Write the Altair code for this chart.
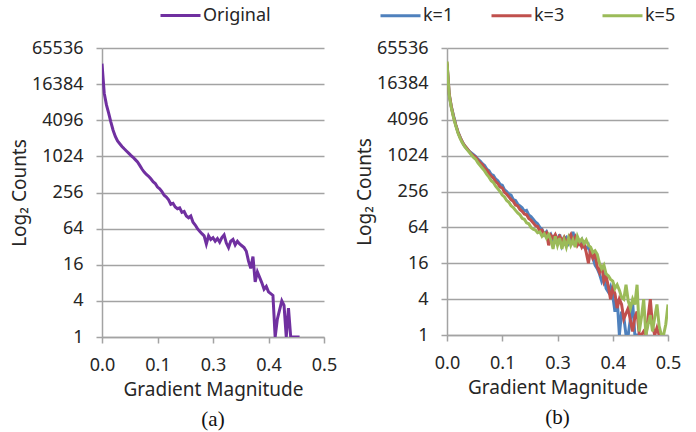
import altair as alt
import pandas as pd

# ---- data -------------------------------------------------------------
GRADIENT = [0.000, 0.005, 0.010, 0.015, 0.020, 0.025, 0.030, 0.035, 0.040, 0.045,
            0.050, 0.055, 0.060, 0.065, 0.070, 0.075, 0.080, 0.085, 0.090, 0.095,
            0.100, 0.105, 0.110, 0.115, 0.120, 0.125, 0.130, 0.135, 0.140, 0.145,
            0.150, 0.155, 0.160, 0.165, 0.170, 0.175, 0.180, 0.185, 0.190, 0.195,
            0.200, 0.205, 0.210, 0.215, 0.220, 0.225, 0.230, 0.235, 0.240, 0.245,
            0.250, 0.255, 0.260, 0.265, 0.270, 0.275, 0.280, 0.285, 0.290, 0.295,
            0.300, 0.305, 0.310, 0.315, 0.320, 0.325, 0.330, 0.335, 0.340, 0.345,
            0.350, 0.355, 0.360, 0.365, 0.370, 0.375, 0.380, 0.385, 0.390, 0.395,
            0.400, 0.405, 0.410, 0.415, 0.420, 0.425, 0.430, 0.435, 0.440, 0.445,
            0.450, 0.455, 0.460, 0.465, 0.470, 0.475, 0.480, 0.485, 0.490, 0.495,
            0.500]

# log2 of the counts
ORIGINAL_LOG2 = [15.13, 13.5, 12.85, 12.4, 11.9, 11.45, 11.1, 10.85, 10.7, 10.55,
                 10.42, 10.3, 10.18, 10.06, 9.95, 9.82, 9.69, 9.5, 9.3, 9.13,
                 9.0, 8.9, 8.76, 8.6, 8.5, 8.3, 8.2, 8.05, 7.85, 7.75,
                 7.6, 7.35, 7.4, 7.2, 7.1, 7.15, 6.9, 6.95, 6.7, 6.6,
                 6.7, 6.35, 6.2, 6.0, 5.85, 5.72, 5.6, 5.15, 5.6, 5.4,
                 5.5, 5.3, 5.45, 5.25, 5.5, 5.65, 5.2, 4.95, 5.3, 5.4,
                 5.1, 5.3, 5.15, 5.05, 4.95, 4.75, 4.2, 3.8, 4.45, 3.05,
                 3.6, 3.3, 3.0, 2.65, 2.8, 2.5, 2.4, 2.3, 0.0, 1.0,
                 1.5, 2.0, 1.75, 0.0, 1.6, 0.0, 0.0, 0.0, 0.0, 0.0]

K1_LOG2 = [15.1, 13.4, 12.7, 12.2, 11.7, 11.3, 11.0, 10.75, 10.55, 10.4,
           10.25, 10.15, 10.05, 9.95, 9.8, 9.7, 9.55, 9.45, 9.25, 9.15,
           8.95, 8.9, 8.7, 8.6, 8.4, 8.35, 8.1, 8.0, 7.85, 7.8,
           7.55, 7.5, 7.3, 7.2, 7.1, 6.9, 6.95, 6.7, 6.6, 6.45,
           6.3, 6.2, 6.0, 5.9, 5.6, 5.75, 5.4, 5.6, 5.3, 5.5,
           5.2, 5.6, 5.0, 5.35, 5.45, 5.1, 5.3, 5.75, 5.2, 5.4,
           5.1, 5.3, 4.9, 4.8, 5.0, 4.5, 4.3, 3.9, 3.7, 3.4,
           3.0, 3.3, 2.6, 2.4, 2.7, 2.2, 1.3, 2.0, 0.0, 1.3,
           1.0, 0.0, 0.0, 0.9, 1.8, 0.0, 0.0, 0.0, 0.0]

K3_LOG2 = [15.2, 13.45, 12.7, 12.15, 11.7, 11.3, 11.0, 10.75, 10.55, 10.4,
           10.25, 10.1, 10.0, 9.9, 9.75, 9.6, 9.5, 9.3, 9.2, 9.0,
           8.85, 8.75, 8.55, 8.45, 8.25, 8.2, 7.95, 7.85, 7.7, 7.55,
           7.45, 7.25, 7.2, 7.0, 6.9, 6.75, 6.7, 6.5, 6.4, 6.25,
           6.1, 6.05, 5.8, 5.85, 5.6, 5.7, 5.0, 5.55, 5.4, 5.6,
           5.3, 5.5, 5.25, 5.45, 5.15, 5.4, 5.6, 5.2, 5.45, 5.0,
           5.2, 4.9, 5.1, 4.6, 4.0, 4.8, 4.3, 4.5, 3.8, 3.5,
           3.9, 3.0, 3.3, 2.7, 2.0, 2.6, 2.3, 1.5, 2.0, 1.7,
           0.9, 1.2, 1.5, 0.8, 0.2, 1.0, 1.3, 0.0, 0.0, 0.2,
           0.0, 1.0, 2.0, 0.5, 0.0, 0.4, 0.0, 0.0]

K5_LOG2 = [15.25, 13.35, 12.65, 12.1, 11.65, 11.25, 10.95, 10.7, 10.5, 10.35,
           10.2, 10.05, 9.9, 9.8, 9.6, 9.45, 9.3, 9.15, 8.95, 8.8,
           8.6, 8.5, 8.3, 8.15, 8.0, 7.8, 7.7, 7.5, 7.4, 7.2,
           7.1, 6.95, 6.8, 6.7, 6.5, 6.45, 6.25, 6.2, 6.0, 5.9,
           5.85, 5.7, 5.75, 5.5, 5.65, 5.4, 5.6, 5.3, 4.8, 5.5,
           5.0, 5.4, 4.8, 5.3, 4.9, 5.4, 5.0, 5.3, 4.9, 5.5,
           5.2, 5.35, 5.1, 5.3, 5.0, 4.9, 4.6, 4.7, 4.5, 4.0,
           3.7, 3.9, 3.4, 3.3, 3.1, 3.0, 2.6, 2.8, 2.5, 2.1,
           2.0, 2.8, 1.9, 1.5, 2.0, 1.7, 2.8, 0.2, 1.0, 2.0,
           0.0, 0.6, 1.1, 0.2, 1.0, 1.7, 0.5, 0.0, 0.0, 0.6,
           1.7]

Y_TICKS = [1, 4, 16, 64, 256, 1024, 4096, 16384, 65536]
X_TICKS = [0.0, 0.125, 0.25, 0.375, 0.5]

LEFT_SERIES = ["Original"]
LEFT_COLORS = ["#7030A0"]
RIGHT_SERIES = ["k=1", "k=3", "k=5"]
RIGHT_COLORS = ["#4F81BD", "#C0504D", "#9BBB59"]


def frame(name, vals):
    return pd.DataFrame({"g": GRADIENT[:len(vals)], "l2": vals, "series": name})


left_df = frame("Original", ORIGINAL_LOG2)
right_df = pd.concat([frame("k=1", K1_LOG2), frame("k=3", K3_LOG2),
                      frame("k=5", K5_LOG2)], ignore_index=True)

FONT = "Noto Sans"
TXT = "#262626"
GRID = "#a3a3a3"


def panel(df, series, colors, tag, w, h, legend_x, legend_y, col_pad):
    x = alt.X("g:Q", scale=alt.Scale(domain=[0, 0.5], nice=False),
              axis=alt.Axis(values=X_TICKS, format=".1f", title="Gradient Magnitude",
                            grid=False, labelFlush=False, labelOverlap=False,
                            tickSize=6, labelPadding=13, titlePadding=6))
    y = alt.Y("cnt:Q", scale=alt.Scale(type="log", base=2, domain=[1, 65536], nice=False),
              axis=alt.Axis(values=Y_TICKS, format="d", title="Log₂ Counts",
                            grid=True, labelOverlap=False, tickSize=6,
                            labelPadding=13, titlePadding=2))
    color = alt.Color("series:N", title=None,
                      scale=alt.Scale(domain=series, range=colors),
                      legend=alt.Legend(orient="none", legendX=legend_x, legendY=legend_y,
                                        direction="horizontal", symbolType="M-2,0H2",
                                        symbolSize=400, symbolStrokeWidth=3,
                                        labelFontSize=18, labelFont=FONT, labelColor=TXT,
                                        labelOffset=11, columnPadding=col_pad))
    return (alt.Chart(df)
            .transform_calculate(cnt="pow(2, datum.l2)")
            .mark_line(strokeWidth=3, clip=True)
            .encode(x=x, y=y, color=color)
            .properties(width=w, height=h,
                        title=alt.TitleParams(tag, orient="bottom", font="Liberation Serif",
                                              fontSize=21, fontWeight="normal", color="#111",
                                              offset=10)))


left = panel(left_df, LEFT_SERIES, LEFT_COLORS, "(a)", 222, 289, 67, -44, 31)
right = panel(right_df, RIGHT_SERIES, RIGHT_COLORS, "(b)", 221, 287, -58, -44, 31)

chart = (alt.hconcat(left, right, spacing=123, bounds="flush")
         .resolve_scale(color="independent")
         .resolve_legend(color="independent")
         .properties(padding={"left": 10, "top": 4, "right": 5, "bottom": 5})
         .configure_view(strokeWidth=0)
         .configure_axis(labelFont=FONT, titleFont=FONT, labelFontSize=18, titleFontSize=19,
                         titleFontWeight="normal", labelColor=TXT, titleColor=TXT,
                         domainColor=GRID, tickColor=GRID, gridColor=GRID,
                         domainWidth=1.5, tickWidth=1.5, gridWidth=1.5))

chart.save("out.html", embed_options={"renderer": "svg", "actions": False})
